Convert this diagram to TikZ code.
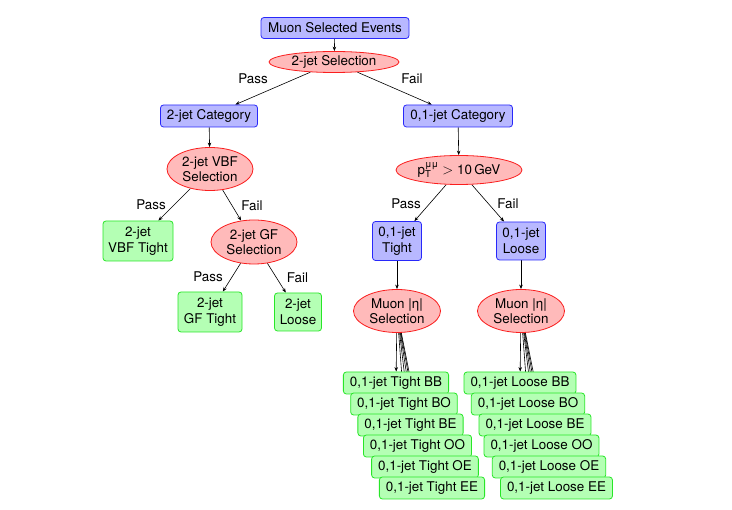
\documentclass[tikz,border=0pt]{standalone}
\usepackage{fontspec}
\setmainfont{TeX Gyre Heros}
\usetikzlibrary{shapes.geometric,arrows.meta,backgrounds}
\definecolor{bfill}{RGB}{184,184,255}
\definecolor{bdraw}{RGB}{40,40,250}
\definecolor{rfill}{RGB}{255,186,186}
\definecolor{rdraw}{RGB}{250,30,30}
\definecolor{gfill}{RGB}{180,255,180}
\definecolor{gdraw}{RGB}{40,230,40}
\newcommand{\smallsym}[1]{\hbox{\fontsize{9.5}{9.5}\selectfont #1}}
\begin{document}
\begin{tikzpicture}[x=1pt,y=-1pt,
  every node/.style={font=\fontsize{13.4}{15.5}\selectfont, inner sep=0pt, align=center},
  catbox/.style={draw=bdraw, fill=bfill, rounded corners=3pt, line width=0.8pt},
  selell/.style={ellipse, draw=rdraw, fill=rfill, line width=0.8pt},
  outbox/.style={draw=gdraw, fill=gfill, rounded corners=3pt, line width=0.8pt},
  stackbox/.style={outbox, inner xsep=6.5pt, minimum height=22pt},
  conn/.style={-{Stealth[length=4.5pt,width=3.5pt]}, line width=0.6pt}]
\useasboundingbox (0,0) rectangle (732,510);

% top
\node[catbox, minimum width=148pt, minimum height=21pt] (mse) at (335,28) {Muon Selected Events};
\node[selell, minimum width=130pt, minimum height=21pt] (sel2) at (334,62) {2-jet Selection};
\node (p1) at (253,79) {Pass};
\node (f1) at (412,79) {Fail};
\node[catbox, minimum width=97pt, minimum height=22pt] (cat2) at (209,116) {2-jet Category};
\node[catbox, minimum width=109pt, minimum height=22pt] (cat01) at (458,116) {0,1-jet Category};

% left branch
\node[selell, minimum width=86pt, minimum height=43pt] (vbf) at (210,169) {2-jet VBF\\Selection};
\node (p2) at (151,205) {Pass};
\node (f2) at (252,206) {Fail};
\node[outbox, minimum width=70pt, minimum height=40pt] (vbft) at (138,241) {2-jet\\VBF Tight};
\node[selell, minimum width=86pt, minimum height=44pt] (gf) at (254,242) {2-jet GF\\Selection};
\node (p3) at (208,277) {Pass};
\node (f3) at (297.5,278) {Fail};
\node[outbox, minimum width=64pt, minimum height=40pt] (gft) at (210,312) {2-jet\\GF Tight};
\node[outbox, minimum width=47pt, minimum height=38pt] (loose2) at (298,312) {2-jet\\Loose};

% right branch
\node[selell, minimum width=126pt, minimum height=29pt] (pt) at (459,170)
  {p$^{\smallsym{μμ}}_{\smallsym{T}}$ $>$ 10\,GeV};
\node (p4) at (406,203.5) {Pass};
\node (f4) at (508,203.5) {Fail};
\node[catbox, minimum width=49pt, minimum height=39pt] (t01) at (397,241) {0,1-jet\\Tight};
\node[catbox, minimum width=49pt, minimum height=38pt] (l01) at (521,241) {0,1-jet\\Loose};
\node[selell, minimum width=87pt, minimum height=43pt] (etaT) at (397,311) {Muon |η|\\Selection};
\node[selell, minimum width=87pt, minimum height=43pt] (etaL) at (521,311) {Muon |η|\\Selection};

% stacks
\node[stackbox] (T1) at (396,383) {0,1-jet Tight BB};
\node[stackbox] (T2) at (404,404) {0,1-jet Tight BO};
\node[stackbox] (T3) at (410.5,425) {0,1-jet Tight BE};
\node[stackbox] (T4) at (417.5,446) {0,1-jet Tight OO};
\node[stackbox] (T5) at (425,467) {0,1-jet Tight OE};
\node[stackbox] (T6) at (432,488) {0,1-jet Tight EE};
\node[stackbox] (L1) at (520,383) {0,1-jet Loose BB};
\node[stackbox] (L2) at (528,404) {0,1-jet Loose BO};
\node[stackbox] (L3) at (535,425) {0,1-jet Loose BE};
\node[stackbox] (L4) at (541.5,446) {0,1-jet Loose OO};
\node[stackbox] (L5) at (549,467) {0,1-jet Loose OE};
\node[stackbox] (L6) at (556.5,488) {0,1-jet Loose EE};

\begin{scope}[on background layer]
\fill[white] (0,0) rectangle (732,510);
\draw[conn] (mse) -- (sel2);
\draw[conn] (sel2) -- (cat2);
\draw[conn] (sel2) -- (cat01);
\draw[conn] (cat2) -- (vbf);
\draw[conn] (vbf) -- (vbft);
\draw[conn] (vbf) -- (gf);
\draw[conn] (gf) -- (gft);
\draw[conn] (gf) -- (loose2);
\draw[conn] (cat01) -- (pt);
\draw[conn] (pt) -- (t01);
\draw[conn] (pt) -- (l01);
\draw[conn] (t01) -- (etaT);
\draw[conn] (l01) -- (etaL);
\foreach \i in {1,...,6}{
  \draw[conn] (etaT) -- (T\i);
  \draw[conn] (etaL) -- (L\i);
}
\end{scope}
\end{tikzpicture}
\end{document}
